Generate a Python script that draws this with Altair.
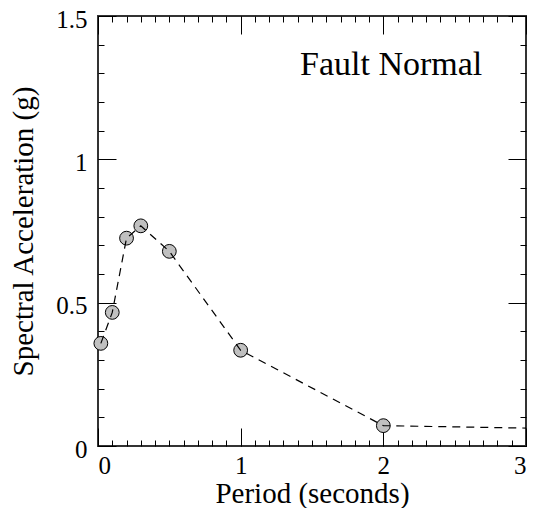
import altair as alt
import pandas as pd

# Data
period_pts = [0.02, 0.1, 0.2, 0.3, 0.5, 1.0, 2.0]
sa_pts = [0.358, 0.466, 0.725, 0.768, 0.679, 0.334, 0.071]
period_line = [0.02, 0.1, 0.2, 0.3, 0.5, 1.0, 2.0, 3.0]
sa_line = [0.358, 0.466, 0.725, 0.768, 0.679, 0.334, 0.071, 0.0625]
annotation = ["Fault Normal"]
x_major = [0, 1, 2, 3]
y_major = [0, 0.5, 1, 1.5]
x_minor = [round(i * 0.1, 1) for i in range(31)]
y_minor = [round(i * 0.1, 1) for i in range(16)]

pts = pd.DataFrame({"period": period_pts, "sa": sa_pts})
line = pd.DataFrame({"period": period_line, "sa": sa_line})
note = pd.DataFrame({"label": annotation})

FONT = "Liberation Serif"
XDOM = [0, 3]
YDOM = [0, 1.5]


def xenc(axis):
    return alt.X("period:Q", scale=alt.Scale(domain=XDOM, nice=False, zero=False), axis=axis)


def yenc(axis):
    return alt.Y("sa:Q", scale=alt.Scale(domain=YDOM, nice=False, zero=False), axis=axis)


main_x_axis = alt.Axis(
    orient="bottom", values=x_major, format="~g", ticks=False, tickSize=0, domain=False,
    grid=False, labelFont=FONT, labelFontSize=25, labelColor="black", labelPadding=7,
    title="Period (seconds)", titleFont=FONT, titleFontSize=29, titleFontWeight="normal",
    titleColor="black", titleY=56, titleBaseline="alphabetic",
)
main_y_axis = alt.Axis(
    orient="left", values=y_major, format="~g", ticks=False, tickSize=0, domain=False,
    grid=False, labelFont=FONT, labelFontSize=25, labelColor="black", labelPadding=11,
    labelOffset=3,
    title="Spectral Acceleration (g)", titleFont=FONT, titleFontSize=29,
    titleFontWeight="normal", titleColor="black", titleX=-66,
    titleBaseline="alphabetic",
)


def tick_axis(orient, values, size, offset):
    return alt.Axis(
        orient=orient, values=values, ticks=True, tickSize=size, tickColor="black",
        tickWidth=1, offset=offset, domain=False, labels=False, grid=False, title=None,
    )


points = alt.Chart(pts).mark_point(
    filled=True, shape="circle", size=190, fill="#c0c0c0", stroke="black",
    strokeWidth=1, opacity=1,
).encode(x=xenc(main_x_axis), y=yenc(main_y_axis))

curve = alt.Chart(line).mark_line(
    color="black", strokeWidth=1.2, strokeDash=[8, 6]
).encode(x=xenc(None), y=yenc(None))

text = alt.Chart(note).mark_text(
    font=FONT, fontSize=34, align="left", baseline="alphabetic", color="black"
).encode(text="label:N", x=alt.value(202), y=alt.value(59))


def tick_layer(xo, xv, xs, yo, yv, ys):
    return alt.Chart(pts).mark_point(opacity=0).encode(
        x=xenc(tick_axis(xo, xv, xs, -xs)),
        y=yenc(tick_axis(yo, yv, ys, -ys)),
    )


layers = [
    tick_layer("bottom", x_major, 18, "left", y_major, 18),
    tick_layer("bottom", x_minor, 6, "left", y_minor, 6),
    tick_layer("top", x_major, 18, "right", y_major, 18),
    tick_layer("top", x_minor, 6, "right", y_minor, 6),
    points,
    curve,
    text,
]

chart = alt.layer(*layers).resolve_scale(
    x="independent", y="independent"
).resolve_axis(
    x="independent", y="independent"
).properties(
    width=428, height=430,
    padding={"left": 90, "top": 8, "right": 1, "bottom": 62},
    autosize=alt.AutoSizeParams(type="none"),
    background="white",
).configure_view(stroke="#333333", strokeWidth=2)

chart.save("out.html", embed_options={"renderer": "svg", "actions": False})
